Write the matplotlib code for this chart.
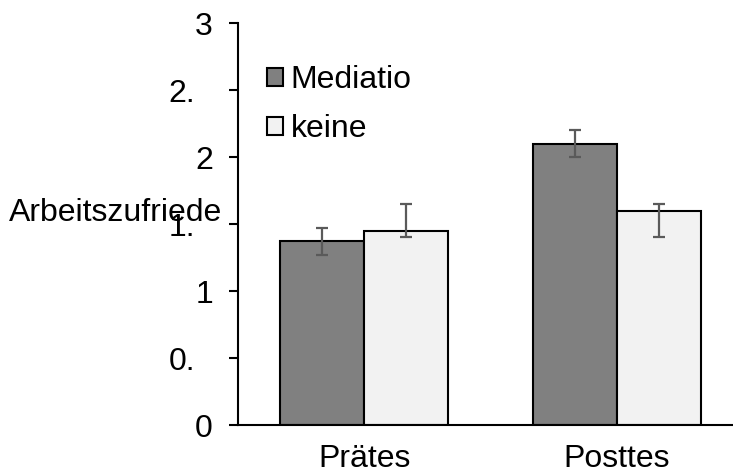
import matplotlib
matplotlib.use("Agg")
import matplotlib.pyplot as plt
import numpy as np

plt.rcParams['font.family'] = ['Liberation Sans', 'DejaVu Sans']

categories = ["Prätes", "Posttes"]
groups = ["Mediatio", "keine"]
mediatio = [1.37, 2.10]
keine = [1.45, 1.60]
mediatio_err_low = [0.10, 0.10]
mediatio_err_high = [0.10, 0.10]
keine_err_low = [0.05, 0.20]
keine_err_high = [0.20, 0.05]
ytick_vals = [0, 0.5, 1, 1.5, 2, 2.5, 3]
ytick_labels = ["0", "0.", "1", "1.", "2", "2.", "3"]

fig = plt.figure(figsize=(7.33, 4.75), dpi=100)
ax = fig.add_axes([238 / 733, 50 / 475, 505 / 733, 402 / 475])

x = np.arange(len(categories))
w = 0.333
err_kw = dict(ecolor="#5a5a5a", elinewidth=1.6, capsize=4.5, capthick=1.6)
ax.bar(x - w / 2, mediatio, w, color="#808080", edgecolor="black", linewidth=1.5,
       yerr=[mediatio_err_low, mediatio_err_high], error_kw=err_kw, label=groups[0])
ax.bar(x + w / 2, keine, w, color="#f2f2f2", edgecolor="black", linewidth=1.5,
       yerr=[keine_err_low, keine_err_high], error_kw=err_kw, label=groups[1])

ax.set_xlim(-0.5, 1.5)
ax.set_ylim(0, 3)
for s in ["top", "right"]:
    ax.spines[s].set_visible(False)
ax.spines["left"].set_linewidth(1.5)
ax.spines["bottom"].set_linewidth(1.5)

ax.set_xticks(x)
ax.set_xticklabels(categories, fontsize=23)
ax.tick_params(axis="x", length=0, pad=14)

ax.set_yticks(ytick_vals)
ax.set_yticklabels([])
ax.tick_params(axis="y", direction="out", length=6.5, width=1.5)
for v, lbl in zip(ytick_vals, ytick_labels):
    off = -30.8 if lbl.endswith(".") else -18
    ax.annotate(lbl, xy=(0, v), xycoords=ax.get_yaxis_transform(), xytext=(off, -3),
                textcoords="offset points", ha="right", va="center", fontsize=23,
                annotation_clip=False)

ax.set_ylabel("Arbeitszufriede", rotation=0, fontsize=23, ha="right", va="center")
ax.yaxis.set_label_coords(-0.032, 0.527)

ax.legend(loc="upper left", bbox_to_anchor=(0.057, 0.895), frameon=False, fontsize=23,
          handlelength=0.5, handleheight=0.5, handletextpad=0.25, labelspacing=0.6,
          borderaxespad=0, borderpad=0)

fig.savefig("out.png", dpi=100)
